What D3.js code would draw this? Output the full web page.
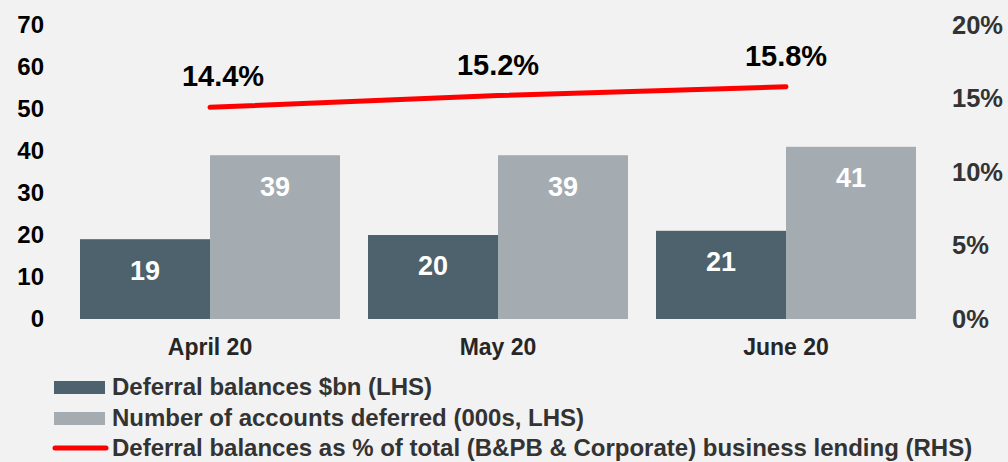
<!DOCTYPE html>
<html>
<head>
<meta charset="utf-8">
<script src="https://cdn.jsdelivr.net/npm/d3@7"></script>
<style>
  body { margin: 0; background: #f2f2f2; }
  svg { display: block; font-family: "Liberation Sans", Arial, sans-serif; font-weight: bold; }
</style>
</head>
<body>
<svg width="1008" height="462"></svg>
<script>
var months = ["April 20", "May 20", "June 20"];
var balances = [19, 20, 21];
var accounts = [39, 39, 41];
var pctLending = [14.4, 15.2, 15.8];
var leftTicks = [0, 10, 20, 30, 40, 50, 60, 70];
var rightTicks = [0, 5, 10, 15, 20];
var legendLabels = [
  "Deferral balances $bn (LHS)",
  "Number of accounts deferred (000s, LHS)",
  "Deferral balances as % of total (B&PB & Corporate) business lending (RHS)"
];

var svg = d3.select("svg");
var colDark = "#4d626d", colLight = "#a5acb1", colRed = "#ff0000";

var x = d3.scaleBand().domain(months).range([66, 930]).paddingInner(28 / 288).paddingOuter(14 / 288);
var y0 = d3.scaleLinear().domain([0, 70]).range([319, 25]);
var y1 = d3.scaleLinear().domain([0, 20]).range([319, 25]);

// left axis
var gl = svg.append("g")
  .attr("transform", "translate(44,0)")
  .call(d3.axisLeft(y0).tickValues(leftTicks).tickSize(0).tickPadding(0));
gl.select(".domain").remove();
gl.selectAll("text").attr("fill", "#000").style("font-size", "24px").style("font-family", "inherit").style("font-weight", "bold");

// right axis
var gr = svg.append("g")
  .attr("transform", "translate(952,0)")
  .call(d3.axisRight(y1).tickValues(rightTicks).tickSize(0).tickPadding(0).tickFormat(function(d) { return d + "%"; }));
gr.select(".domain").remove();
gr.selectAll("text").attr("fill", "#333").style("font-size", "25.5px").style("font-family", "inherit").style("font-weight", "bold");

// bars
var half = x.bandwidth() / 2;
var groups = svg.append("g").selectAll("g")
  .data(months)
  .join("g")
  .attr("transform", function(d) { return "translate(" + x(d) + ",0)"; });

groups.append("rect")
  .attr("x", 0)
  .attr("width", half)
  .attr("y", function(d, i) { return y0(balances[i]); })
  .attr("height", function(d, i) { return y0(0) - y0(balances[i]); })
  .attr("fill", colDark);

groups.append("rect")
  .attr("x", half)
  .attr("width", half)
  .attr("y", function(d, i) { return y0(accounts[i]); })
  .attr("height", function(d, i) { return y0(0) - y0(accounts[i]); })
  .attr("fill", colLight);

groups.append("text")
  .attr("x", half / 2)
  .attr("y", function(d, i) { return y0(balances[i]) + 31; })
  .attr("dy", "0.35em")
  .attr("text-anchor", "middle")
  .attr("fill", "#fff")
  .style("font-size", "27px")
  .text(function(d, i) { return balances[i]; });

groups.append("text")
  .attr("x", half * 1.5)
  .attr("y", function(d, i) { return y0(accounts[i]) + 31; })
  .attr("dy", "0.35em")
  .attr("text-anchor", "middle")
  .attr("fill", "#fff")
  .style("font-size", "27px")
  .text(function(d, i) { return accounts[i]; });

// category labels
svg.append("g").selectAll("text")
  .data(months)
  .join("text")
  .attr("x", function(d) { return x(d) + half; })
  .attr("y", 347)
  .attr("dy", "0.35em")
  .attr("text-anchor", "middle")
  .attr("fill", "#262626")
  .style("font-size", "23px")
  .text(function(d) { return d; });

// line
var line = d3.line()
  .x(function(d, i) { return x(months[i]) + half; })
  .y(function(d) { return y1(d); });

svg.append("path")
  .datum(pctLending)
  .attr("fill", "none")
  .attr("stroke", colRed)
  .attr("stroke-width", 5)
  .attr("stroke-linecap", "round")
  .attr("d", line);

svg.append("g").selectAll("text")
  .data(pctLending)
  .join("text")
  .attr("x", function(d, i) { return x(months[i]) + half + (i == 0 ? 13 : 0); })
  .attr("y", function(d) { return y1(d) - 31; })
  .attr("dy", "0.35em")
  .attr("text-anchor", "middle")
  .attr("fill", "#000")
  .style("font-size", "29px")
  .text(function(d) { return d.toFixed(1) + "%"; });

// legend
var legendY = [387, 418, 448];
var lg = svg.append("g");
legendLabels.forEach(function(lbl, i) {
  if (i < 2) {
    lg.append("rect").attr("x", 54).attr("y", legendY[i] - 6).attr("width", 51).attr("height", 13)
      .attr("fill", i == 0 ? colDark : colLight);
  } else {
    lg.append("line").attr("x1", 55).attr("x2", 106).attr("y1", legendY[i]).attr("y2", legendY[i])
      .attr("stroke", colRed).attr("stroke-width", 5).attr("stroke-linecap", "round");
  }
  lg.append("text")
    .attr("x", 112)
    .attr("y", legendY[i])
    .attr("dy", "0.35em")
    .attr("fill", "#333")
    .style("font-size", "24px")
    .text(lbl);
});
</script>
</body>
</html>
